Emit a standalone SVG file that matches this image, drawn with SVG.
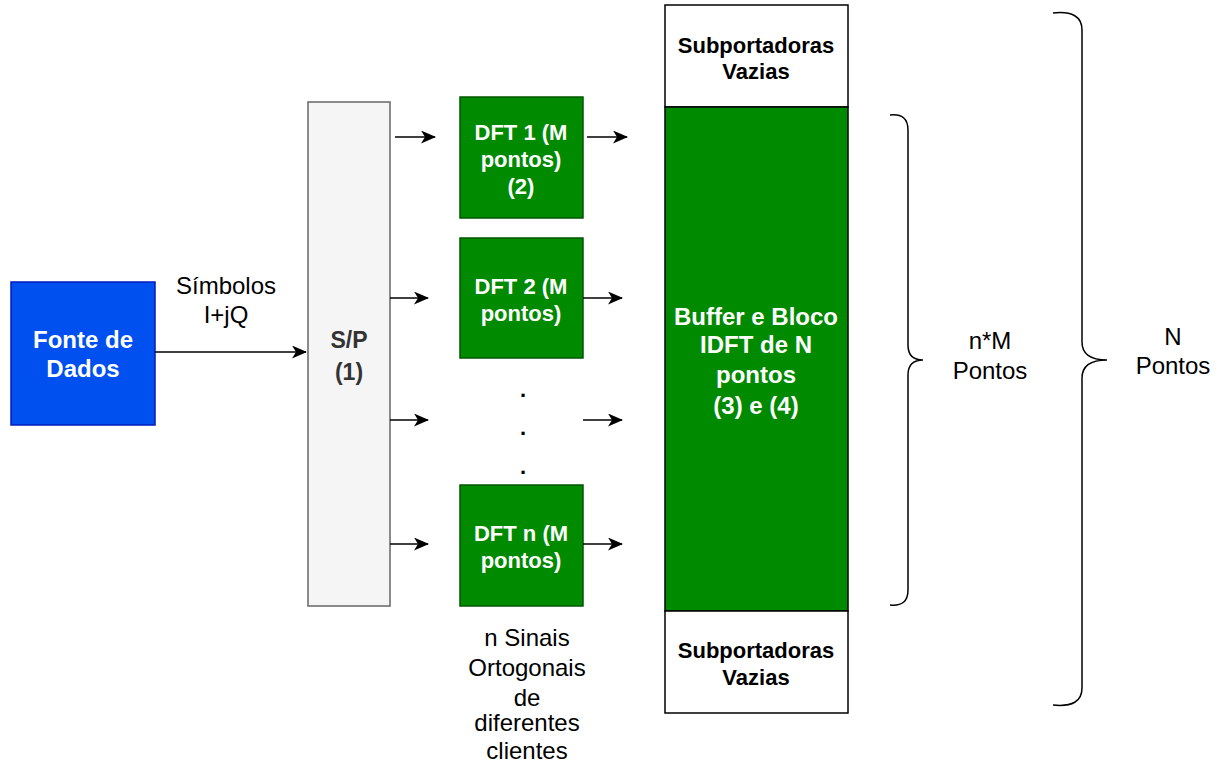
<svg xmlns="http://www.w3.org/2000/svg" width="1222" height="762" viewBox="0 0 1222 762">
<style>
text{font-family:"Liberation Sans",Arial,sans-serif;text-anchor:middle}
.w{fill:#fff;font-weight:bold}
.dft{fill:#008a00;stroke:#005700;stroke-width:1.5}
.lbl{font-size:24px;fill:#000}
.conn line{stroke:#000;stroke-width:1.5}
.brace{fill:none;stroke:#000;stroke-width:1.5}
</style>
<defs>
<marker id="arr" markerWidth="15" markerHeight="13" refX="14" refY="6.5" orient="auto" markerUnits="userSpaceOnUse">
<path d="M0,0 L15,6.5 L0,13 L4,6.5 Z" fill="#000"/>
</marker>
</defs>
<rect width="1222" height="762" fill="#fff"/>
<g id="fonte">
<rect x="11" y="282" width="144" height="143" fill="#0050ef" stroke="#001dbc" stroke-width="1.5"/>
<text class="w" font-size="24" x="83" y="348">Fonte de</text>
<text class="w" font-size="24" x="83" y="377">Dados</text>
</g>
<g id="sp">
<rect x="308" y="102" width="82" height="504" fill="#f5f5f5" stroke="#666" stroke-width="1.5"/>
<text font-size="23" font-weight="bold" fill="#333" x="349" y="348">S/P</text>
<text font-size="23" font-weight="bold" fill="#333" x="349" y="380">(1)</text>
</g>
<g id="dft1">
<rect class="dft" x="460" y="97" width="123" height="121"/>
<text class="w" font-size="22" x="521" y="140">DFT 1 (M</text>
<text class="w" font-size="22" x="521" y="167">pontos)</text>
<text class="w" font-size="22" x="521" y="194">(2)</text>
</g>
<g id="dft2">
<rect class="dft" x="460" y="238" width="123" height="120"/>
<text class="w" font-size="22" x="521" y="294">DFT 2 (M</text>
<text class="w" font-size="22" x="521" y="321">pontos)</text>
</g>
<g id="dots">
<text font-size="22" font-weight="bold" x="523" y="397">.</text>
<text font-size="22" font-weight="bold" x="523" y="435">.</text>
<text font-size="22" font-weight="bold" x="523" y="474">.</text>
</g>
<g id="dftn">
<rect class="dft" x="460" y="485" width="123" height="121"/>
<text class="w" font-size="22" x="521" y="541">DFT n (M</text>
<text class="w" font-size="22" x="521" y="568">pontos)</text>
</g>
<g id="subtop">
<rect x="665" y="5" width="183" height="102" fill="#fff" stroke="#000" stroke-width="1.5"/>
<text font-size="22" font-weight="bold" x="756" y="53">Subportadoras</text>
<text font-size="22" font-weight="bold" x="756" y="79">Vazias</text>
</g>
<g id="buffer">
<rect x="665" y="107" width="183" height="504" fill="#008a00" stroke="#000" stroke-width="1.5"/>
<text class="w" font-size="24" x="756" y="325">Buffer e Bloco</text>
<text class="w" font-size="24" x="756" y="353">IDFT de N</text>
<text class="w" font-size="24" x="756" y="383">pontos</text>
<text class="w" font-size="24" x="756" y="414">(3) e (4)</text>
</g>
<g id="subbot">
<rect x="665" y="611" width="183" height="102" fill="#fff" stroke="#000" stroke-width="1.5"/>
<text font-size="22" font-weight="bold" x="756" y="658">Subportadoras</text>
<text font-size="22" font-weight="bold" x="756" y="685">Vazias</text>
</g>
<g id="labels">
<text class="lbl" x="226" y="294">Símbolos</text>
<text class="lbl" x="226" y="323">I+jQ</text>
<text class="lbl" x="527" y="646">n Sinais</text>
<text class="lbl" x="527" y="676">Ortogonais</text>
<text class="lbl" x="527" y="706">de</text>
<text class="lbl" x="527" y="731">diferentes</text>
<text class="lbl" x="527" y="759">clientes</text>
<text class="lbl" x="990" y="349">n*M</text>
<text class="lbl" x="990" y="379">Pontos</text>
<text class="lbl" x="1173" y="345">N</text>
<text class="lbl" x="1173" y="374">Pontos</text>
</g>
<g id="connectors" class="conn">
<line x1="155" y1="352" x2="306" y2="352" marker-end="url(#arr)"/>
<line x1="395" y1="137" x2="435" y2="137" marker-end="url(#arr)"/>
<line x1="587" y1="137" x2="627" y2="137" marker-end="url(#arr)"/>
<line x1="390" y1="298" x2="428" y2="298" marker-end="url(#arr)"/>
<line x1="583" y1="298" x2="622" y2="298" marker-end="url(#arr)"/>
<line x1="390" y1="420" x2="428" y2="420" marker-end="url(#arr)"/>
<line x1="583" y1="420" x2="622" y2="420" marker-end="url(#arr)"/>
<line x1="390" y1="544" x2="428" y2="544" marker-end="url(#arr)"/>
<line x1="583" y1="544" x2="622" y2="544" marker-end="url(#arr)"/>
</g>
<g id="braces">
<path class="brace" d="M890,115 Q908,113 908,130 L908,345 Q908,360 923,360 Q908,360 908,375 L908,590 Q908,607 890,605"/>
<path class="brace" d="M1053,13 Q1082,10 1082,30 L1082,342 Q1082,360 1107,360 Q1082,360 1082,378 L1082,688 Q1082,708 1053,705"/>
</g>
</svg>
